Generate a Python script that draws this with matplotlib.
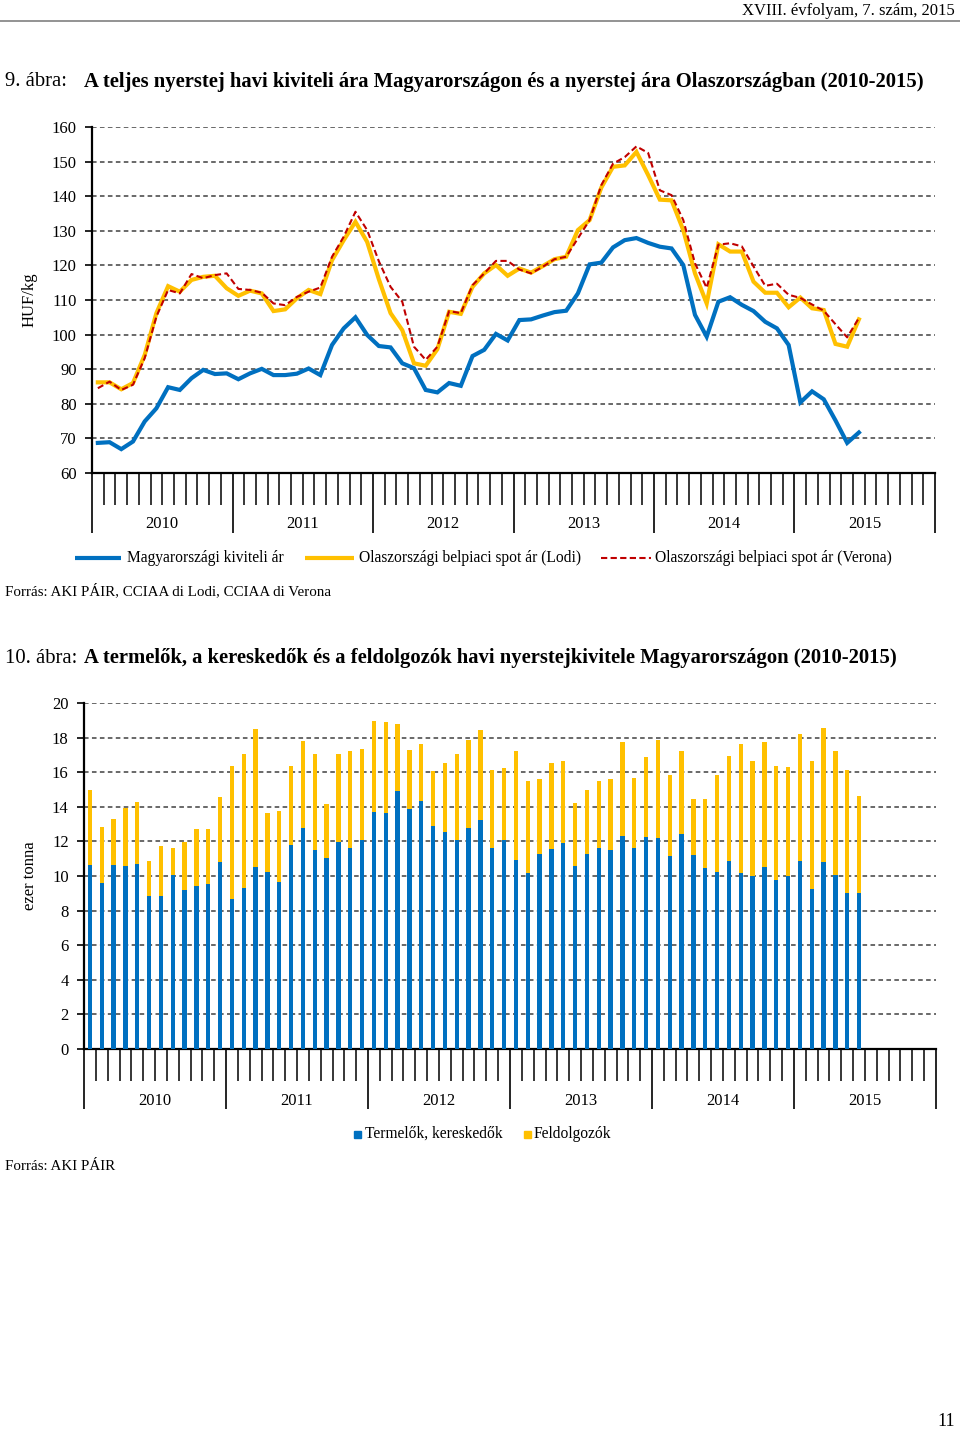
import matplotlib
matplotlib.use("Agg")
import matplotlib.pyplot as plt
import matplotlib.transforms as mtransforms
from matplotlib.lines import Line2D
from matplotlib.patches import Rectangle
import numpy as np

plt.rcParams['font.family'] = ['Liberation Serif', 'DejaVu Serif']

# ---------------- data ----------------
years = ["2010", "2011", "2012", "2013", "2014", "2015"]

# Chart 1: HUF/kg, monthly Jan 2010 - Jun 2015
hu_export = [68.7, 68.9, 66.9, 69.1, 74.9, 78.7, 84.8, 84.0, 87.4, 89.8, 88.6, 88.8,
             87.1, 88.8, 90.1, 88.3, 88.3, 88.7, 90.2, 88.3, 97.0, 101.8, 105.0, 99.9,
             96.7, 96.3, 91.7, 90.3, 84.0, 83.3, 86.0, 85.2, 93.8, 95.6, 100.2, 98.3,
             104.2, 104.4, 105.5, 106.5, 106.9, 111.9, 120.3, 120.8, 125.2, 127.3, 127.9, 126.5,
             125.4, 124.9, 120.1, 105.7, 99.4, 109.5, 110.8, 108.6, 106.8, 103.7, 101.8, 97.0,
             80.4, 83.6, 81.3, 75.2, 68.7, 71.7]
it_lodi = [86.2, 86.2, 84.2, 86.0, 94.1, 106.2, 114.0, 112.4, 115.8, 116.7, 117.0, 113.4,
           111.2, 112.7, 111.9, 106.8, 107.3, 110.5, 112.9, 111.7, 121.5, 127.3, 132.6, 126.8,
           116.0, 106.2, 101.3, 91.7, 91.0, 95.8, 106.6, 106.0, 113.8, 117.7, 120.1, 117.0,
           119.1, 117.9, 119.8, 121.8, 122.5, 130.2, 133.1, 142.5, 148.5, 148.9, 152.8, 146.1,
           139.0, 138.8, 130.2, 117.7, 109.0, 126.1, 124.0, 124.0, 115.3, 112.1, 112.1, 107.9,
           110.7, 107.6, 107.1, 97.3, 96.5, 104.4]
it_verona = [84.5, 86.4, 84.0, 85.5, 93.2, 105.2, 112.9, 111.9, 117.5, 116.3, 117.2, 117.7,
             113.2, 112.9, 112.1, 109.0, 108.5, 110.9, 112.4, 113.6, 122.5, 128.3, 135.5, 130.2,
             121.2, 113.8, 109.5, 96.5, 92.7, 96.5, 106.8, 106.2, 114.3, 117.7, 121.3, 121.3,
             118.8, 117.7, 119.6, 121.8, 122.5, 127.8, 133.1, 143.2, 149.4, 151.3, 154.4, 152.5,
             141.7, 140.3, 133.1, 120.6, 113.5, 126.0, 126.4, 125.5, 119.7, 114.1, 114.7, 111.5,
             110.6, 108.7, 106.9, 103.0, 99.2, 104.8]

# Chart 2: thousand tonnes, monthly Jan 2010 - Jun 2015
producers_traders = [10.62, 9.60, 10.65, 10.60, 10.71, 8.82, 8.86, 10.06, 9.19, 9.40, 9.52, 10.81,
                     8.67, 9.33, 10.50, 10.21, 9.63, 11.77, 12.76, 11.52, 11.04, 11.95, 11.64, 12.10,
                     13.72, 13.64, 14.89, 13.87, 14.34, 12.89, 12.54, 12.08, 12.76, 13.22, 11.60, 12.08,
                     10.92, 10.19, 11.27, 11.54, 11.89, 10.56, 11.27, 11.62, 11.48, 12.33, 11.62, 12.25,
                     12.20, 11.14, 12.45, 11.23, 10.44, 10.25, 10.85, 10.15, 10.02, 10.52, 9.77, 9.98,
                     10.89, 9.23, 10.81, 10.04, 9.02, 9.00]
totals = [14.99, 12.85, 13.28, 13.93, 14.26, 10.87, 11.71, 11.62, 11.97, 12.72, 12.72, 14.57,
          16.38, 17.07, 18.48, 13.64, 13.78, 16.34, 17.78, 17.07, 14.18, 17.07, 17.23, 17.34,
          18.94, 18.90, 18.77, 17.30, 17.63, 16.09, 16.53, 17.05, 17.84, 18.44, 16.13, 16.24,
          17.23, 15.49, 15.61, 16.53, 16.65, 14.22, 14.99, 15.51, 15.63, 17.75, 15.66, 16.88,
          17.88, 15.86, 17.24, 14.47, 14.47, 15.82, 16.94, 17.65, 16.67, 17.76, 16.38, 16.32,
          18.23, 16.67, 18.54, 17.21, 16.15, 14.64]
processors = [round(t - p, 2) for t, p in zip(totals, producers_traders)]

BLUE = "#0070C0"
YELLOW = "#FFC000"
RED = "#C00000"
GRID = "#404040"

W, H = 960, 1429
fig = plt.figure(figsize=(W / 100, H / 100), dpi=100)


def fx(px):
    return px / W


def fy(py):
    return 1 - py / H


FS = 12       # tick / year labels
LFS = 11.2    # legend text
SFS = 10.8    # source text
TFS = 14.85   # titles

# header
fig.text(fx(955), fy(11), "XVIII. évfolyam, 7. szám, 2015", ha="right", va="center", fontsize=12.0)
fig.add_artist(Line2D([0, 1], [fy(20.5), fy(20.5)], color="#808080", lw=1.2, transform=fig.transFigure))

# titles
fig.text(fx(5), fy(81.5), "9. ábra:", ha="left", va="center", fontsize=TFS)
fig.text(fx(84), fy(81.5), "A teljes nyerstej havi kiviteli ára Magyarországon és a nyerstej ára Olaszországban (2010-2015)",
         ha="left", va="center", fontsize=TFS, fontweight="bold")
fig.text(fx(5), fy(658.5), "10. ábra:", ha="left", va="center", fontsize=TFS)
fig.text(fx(84), fy(658.5), "A termelők, a kereskedők és a feldolgozók havi nyerstejkivitele Magyarországon (2010-2015)",
         ha="left", va="center", fontsize=TFS, fontweight="bold")


def style_time_axis(ax, n_months, label_offset_px):
    ax.set_xlim(0, n_months)
    ax.spines["top"].set_visible(False)
    ax.spines["right"].set_visible(False)
    ax.spines["left"].set_linewidth(1.6)
    ax.spines["bottom"].set_linewidth(1.6)
    ax.set_xticks(np.arange(0, n_months + 1, 12))
    ax.set_xticks(np.arange(0, n_months + 1, 1), minor=True)
    ax.tick_params(axis="x", which="major", direction="out", length=43, width=1.2, labelbottom=False)
    ax.tick_params(axis="x", which="minor", direction="out", length=23, width=1.1)
    ax.tick_params(axis="y", which="major", direction="out", length=5, width=1.2, labelsize=FS, pad=6)
    trans = mtransforms.blended_transform_factory(ax.transData, ax.transAxes)
    off = mtransforms.ScaledTranslation(0, -label_offset_px / 100, fig.dpi_scale_trans)
    for k, yr in enumerate(years):
        ax.text(12 * k + 6, 0, yr, transform=trans + off, ha="center", va="center", fontsize=FS)
    ax.yaxis.grid(True, linestyle=(0, (3.0, 2.2)), color=GRID, linewidth=1.1)
    ax.set_axisbelow(True)


# ---------------- chart 1 ----------------
ax1 = fig.add_axes([fx(92), fy(473), fx(935) - fx(92), fy(127) - fy(473)])
x1 = np.arange(len(hu_export)) + 0.5
ax1.plot(x1, hu_export, color=BLUE, lw=3.0, solid_joinstyle="miter", zorder=3)
ax1.plot(x1, it_lodi, color=YELLOW, lw=3.0, solid_joinstyle="miter", zorder=4)
ax1.plot(x1, it_verona, color=RED, lw=1.5, linestyle=(0, (3, 1.6)), zorder=5)
ax1.set_ylim(60, 160)
ax1.set_yticks(np.arange(60, 161, 10))
style_time_axis(ax1, 72, 51)
ax1.set_ylabel("HUF/kg", fontsize=12)
ax1.yaxis.set_label_coords((fx(38) - fx(92)) / (fx(935) - fx(92)), 0.5)

# legend chart 1 (manual)
ly = fy(557.5)
fig.add_artist(Line2D([fx(75), fx(121)], [ly, ly], color=BLUE, lw=3.0, solid_capstyle="butt",
                      transform=fig.transFigure))
fig.text(fx(127), ly, "Magyarországi kiviteli ár", ha="left", va="center", fontsize=LFS)
fig.add_artist(Line2D([fx(305), fx(354)], [ly, ly], color=YELLOW, lw=3.0, solid_capstyle="butt",
                      transform=fig.transFigure))
fig.text(fx(359), ly, "Olaszországi belpiaci spot ár (Lodi)", ha="left", va="center", fontsize=LFS)
fig.add_artist(Line2D([fx(601), fx(651)], [ly, ly], color=RED, lw=1.5, linestyle=(0, (3, 1.6)),
                      transform=fig.transFigure))
fig.text(fx(655), ly, "Olaszországi belpiaci spot ár (Verona)", ha="left", va="center", fontsize=LFS)

fig.text(fx(5), fy(591), "Forrás: AKI PÁIR, CCIAA di Lodi, CCIAA di Verona", ha="left", va="center", fontsize=SFS)

# ---------------- chart 2 ----------------
ax2 = fig.add_axes([fx(84), fy(1049), fx(936) - fx(84), fy(703) - fy(1049)])
x2 = np.arange(len(producers_traders)) + 0.5
ax2.bar(x2, producers_traders, width=0.36, color=BLUE, zorder=3)
ax2.bar(x2, processors, width=0.36, bottom=producers_traders, color=YELLOW, zorder=3)
ax2.set_ylim(0, 20)
ax2.set_yticks(np.arange(0, 21, 2))
style_time_axis(ax2, 72, 52)
ax2.set_ylabel("ezer tonna", fontsize=12)
ax2.yaxis.set_label_coords((fx(38) - fx(84)) / (fx(936) - fx(84)), 0.5)

# legend chart 2 (manual)
ly2 = fy(1134)
sq = 7
fig.add_artist(Rectangle((fx(354), ly2 - (sq / 2) / H), sq / W, sq / H, color=BLUE, transform=fig.transFigure))
fig.text(fx(365), ly2, "Termelők, kereskedők", ha="left", va="center", fontsize=LFS)
fig.add_artist(Rectangle((fx(524), ly2 - (sq / 2) / H), sq / W, sq / H, color=YELLOW, transform=fig.transFigure))
fig.text(fx(534), ly2, "Feldolgozók", ha="left", va="center", fontsize=LFS)

fig.text(fx(5), fy(1167), "Forrás: AKI PÁIR", ha="left", va="center", fontsize=SFS)

# page number
fig.text(fx(955), fy(1421), "11", ha="right", va="center", fontsize=13)

fig.savefig("out.png", dpi=100)
